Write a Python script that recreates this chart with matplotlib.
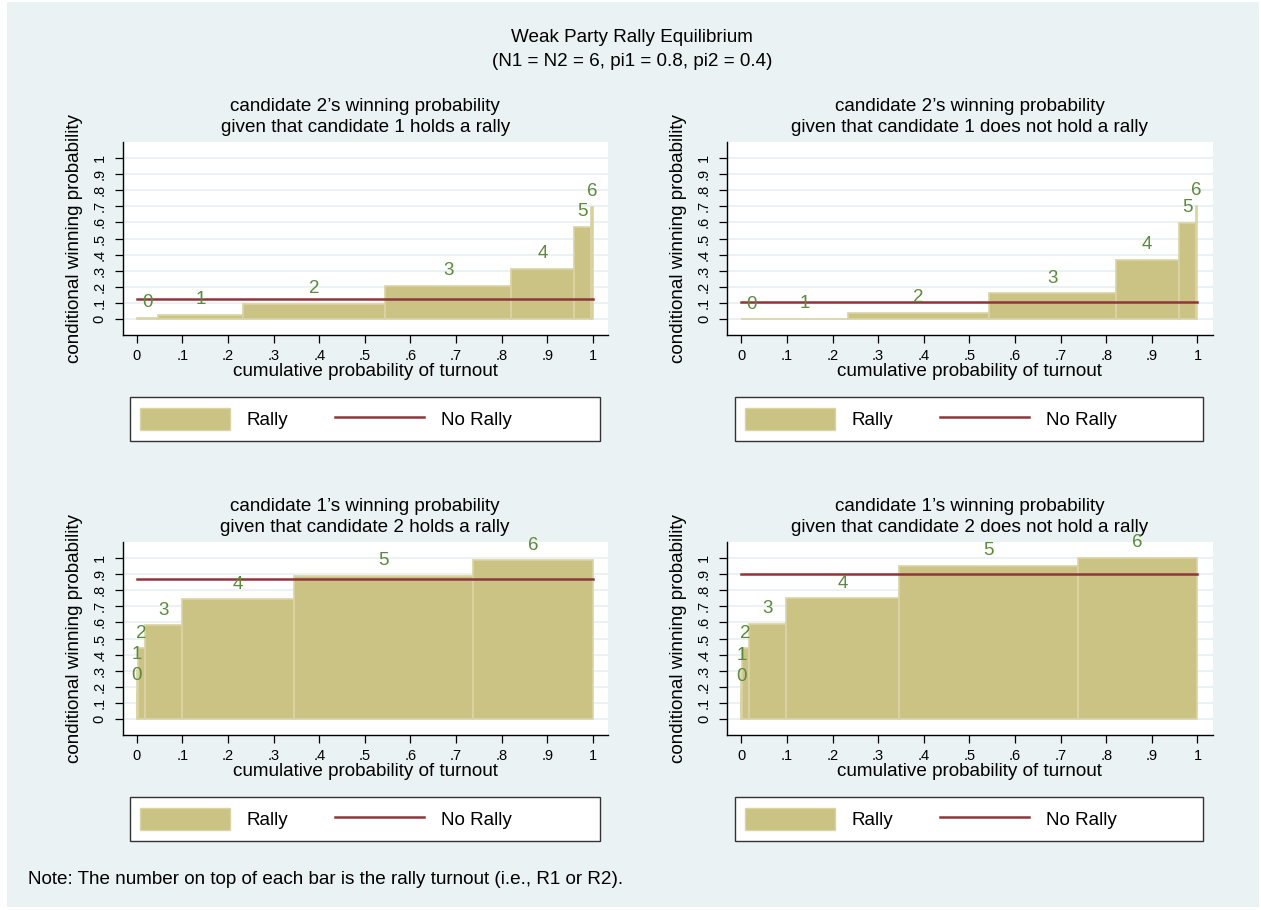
import matplotlib
matplotlib.use("Agg")
import matplotlib.pyplot as plt
from matplotlib.patches import Rectangle, Patch
from matplotlib.lines import Line2D

plt.rcParams['font.family'] = ['Liberation Sans', 'DejaVu Sans']

# ---- data ----
turnout_labels = [0, 1, 2, 3, 4, 5, 6]

# cumulative probability bin edges (candidate 1 turnout for top panels, candidate 2 for bottom)
edges_top = [0.0, 0.047, 0.233, 0.544, 0.821, 0.959, 0.996, 1.0]
edges_bottom = [0.0, 0.0001, 0.0016, 0.017, 0.099, 0.345, 0.738, 1.0]

rally_tl = [0.008, 0.027, 0.095, 0.208, 0.313, 0.573, 0.697]
norally_tl = 0.126
rally_tr = [0.001, 0.004, 0.041, 0.161, 0.369, 0.598, 0.701]
norally_tr = 0.105
rally_bl = [0.178, 0.305, 0.439, 0.581, 0.742, 0.889, 0.983]
norally_bl = 0.868
rally_br = [0.175, 0.302, 0.439, 0.590, 0.748, 0.951, 1.0]
norally_br = 0.899

titles = [
    "candidate 2\u2019s winning probability\ngiven that candidate 1 holds a rally",
    "candidate 2\u2019s winning probability\ngiven that candidate 1 does not hold a rally",
    "candidate 1\u2019s winning probability\ngiven that candidate 2 holds a rally",
    "candidate 1\u2019s winning probability\ngiven that candidate 2 does not hold a rally",
]
xticks = [0, .1, .2, .3, .4, .5, .6, .7, .8, .9, 1]
xtick_labels = ["0", ".1", ".2", ".3", ".4", ".5", ".6", ".7", ".8", ".9", "1"]
yticks = xticks
ytick_labels = xtick_labels

# ---- style ----
BG = '#EAF2F3'
BAR = '#CBC384'
BAR_EDGE = '#DAD3A6'
RED = '#90353B'
GREEN = '#5B8A3A'
FS = 13.6

W, H = 1261, 910
fig = plt.figure(figsize=(W / 100, H / 100), dpi=100)
fig.patch.set_facecolor('white')
fig.add_artist(Rectangle((7 / W, 3 / H), (W - 9) / W, (H - 5) / H, transform=fig.transFigure,
                         facecolor=BG, edgecolor='none', zorder=-10))


def fx(px):
    return px / W


def fy(py):
    return 1 - py / H


panels = [
    (122.5, 142, 608, 335, edges_top, rally_tl, norally_tl, titles[0], (130, 397, 600, 441)),
    (727, 142, 1212.5, 335, edges_top, rally_tr, norally_tr, titles[1], (735, 397, 1203, 441)),
    (122.5, 542, 608, 735, edges_bottom, rally_bl, norally_bl, titles[2], (130, 797, 600, 841)),
    (727, 542, 1212.5, 735, edges_bottom, rally_br, norally_br, titles[3], (735, 797, 1203, 841)),
]

for (l, t, r, b, edges, rally, norally, title, lg) in panels:
    ax = fig.add_axes([fx(l), fy(b), fx(r - l), (b - t) / H])
    ax.set_facecolor('white')
    lefts = edges[:-1]
    widths = [edges[i + 1] - edges[i] for i in range(len(edges) - 1)]
    ax.bar(lefts, rally, width=widths, align='edge', color=BAR, edgecolor=BAR_EDGE,
           linewidth=1.2, zorder=2)
    ax.plot([0, 1], [norally, norally], color=RED, linewidth=1.8, zorder=3)
    for i, lab in enumerate(turnout_labels):
        cx = lefts[i] + widths[i] / 2
        ax.text(cx, rally[i] + 0.093, str(lab), color=GREEN, fontsize=13.5,
                ha='center', va='center', zorder=4)
    ax.set_xlim(-0.0313, 1.033)
    ax.set_ylim(-0.097, 1.097)
    ax.set_xticks(xticks)
    ax.set_xticklabels(xtick_labels, fontsize=10.5)
    ax.set_yticks(yticks)
    ax.set_yticklabels(ytick_labels, fontsize=10.5, rotation=90, va='center')
    ax.grid(axis='y', color=BG, linewidth=1.4, zorder=0)
    ax.set_axisbelow(True)
    for s in ['top', 'right']:
        ax.spines[s].set_visible(False)
    for s in ['left', 'bottom']:
        ax.spines[s].set_linewidth(1.0)
    ax.tick_params(axis='x', direction='out', length=6, width=0.9, pad=4)
    ax.tick_params(axis='y', direction='out', length=5.5, width=0.9, pad=6)
    ax.set_xlabel("cumulative probability of turnout", fontsize=FS, labelpad=0)
    ax.set_ylabel("conditional winning probability", fontsize=FS, labelpad=7)
    ax.set_title(title, fontsize=FS, pad=7, linespacing=1.32)

    # legend box
    lx0, ly0, lx1, ly1 = lg
    fig.add_artist(Rectangle((fx(lx0), fy(ly1)), fx(lx1 - lx0), (ly1 - ly0) / H,
                             transform=fig.transFigure, facecolor='white',
                             edgecolor='#333333', linewidth=1.0, zorder=1))
    handles = [Patch(facecolor=BAR, edgecolor=BAR_EDGE, linewidth=1.0),
               Line2D([0], [0], color=RED, linewidth=1.8)]
    leg = fig.legend(handles, ["Rally", "No Rally"], loc='center left',
                     bbox_to_anchor=(fx(lx0 + 10), fy((ly0 + ly1) / 2)),
                     ncol=2, frameon=False, fontsize=FS, borderpad=0,
                     handlelength=4.76, handleheight=1.37, handletextpad=0.9,
                     columnspacing=2.43, borderaxespad=0)
    leg.set_zorder(2)

fig.text(fx(632), fy(38), "Weak Party Rally Equilibrium", ha='center', va='center', fontsize=FS)
fig.text(fx(632), fy(62), "(N1 = N2 = 6, pi1 = 0.8, pi2 = 0.4)", ha='center', va='center', fontsize=FS)
fig.text(fx(28), fy(880), "Note: The number on top of each bar is the rally turnout (i.e., R1 or R2).",
         ha='left', va='center', fontsize=FS)

fig.savefig("out.png", dpi=100, facecolor=fig.get_facecolor())
